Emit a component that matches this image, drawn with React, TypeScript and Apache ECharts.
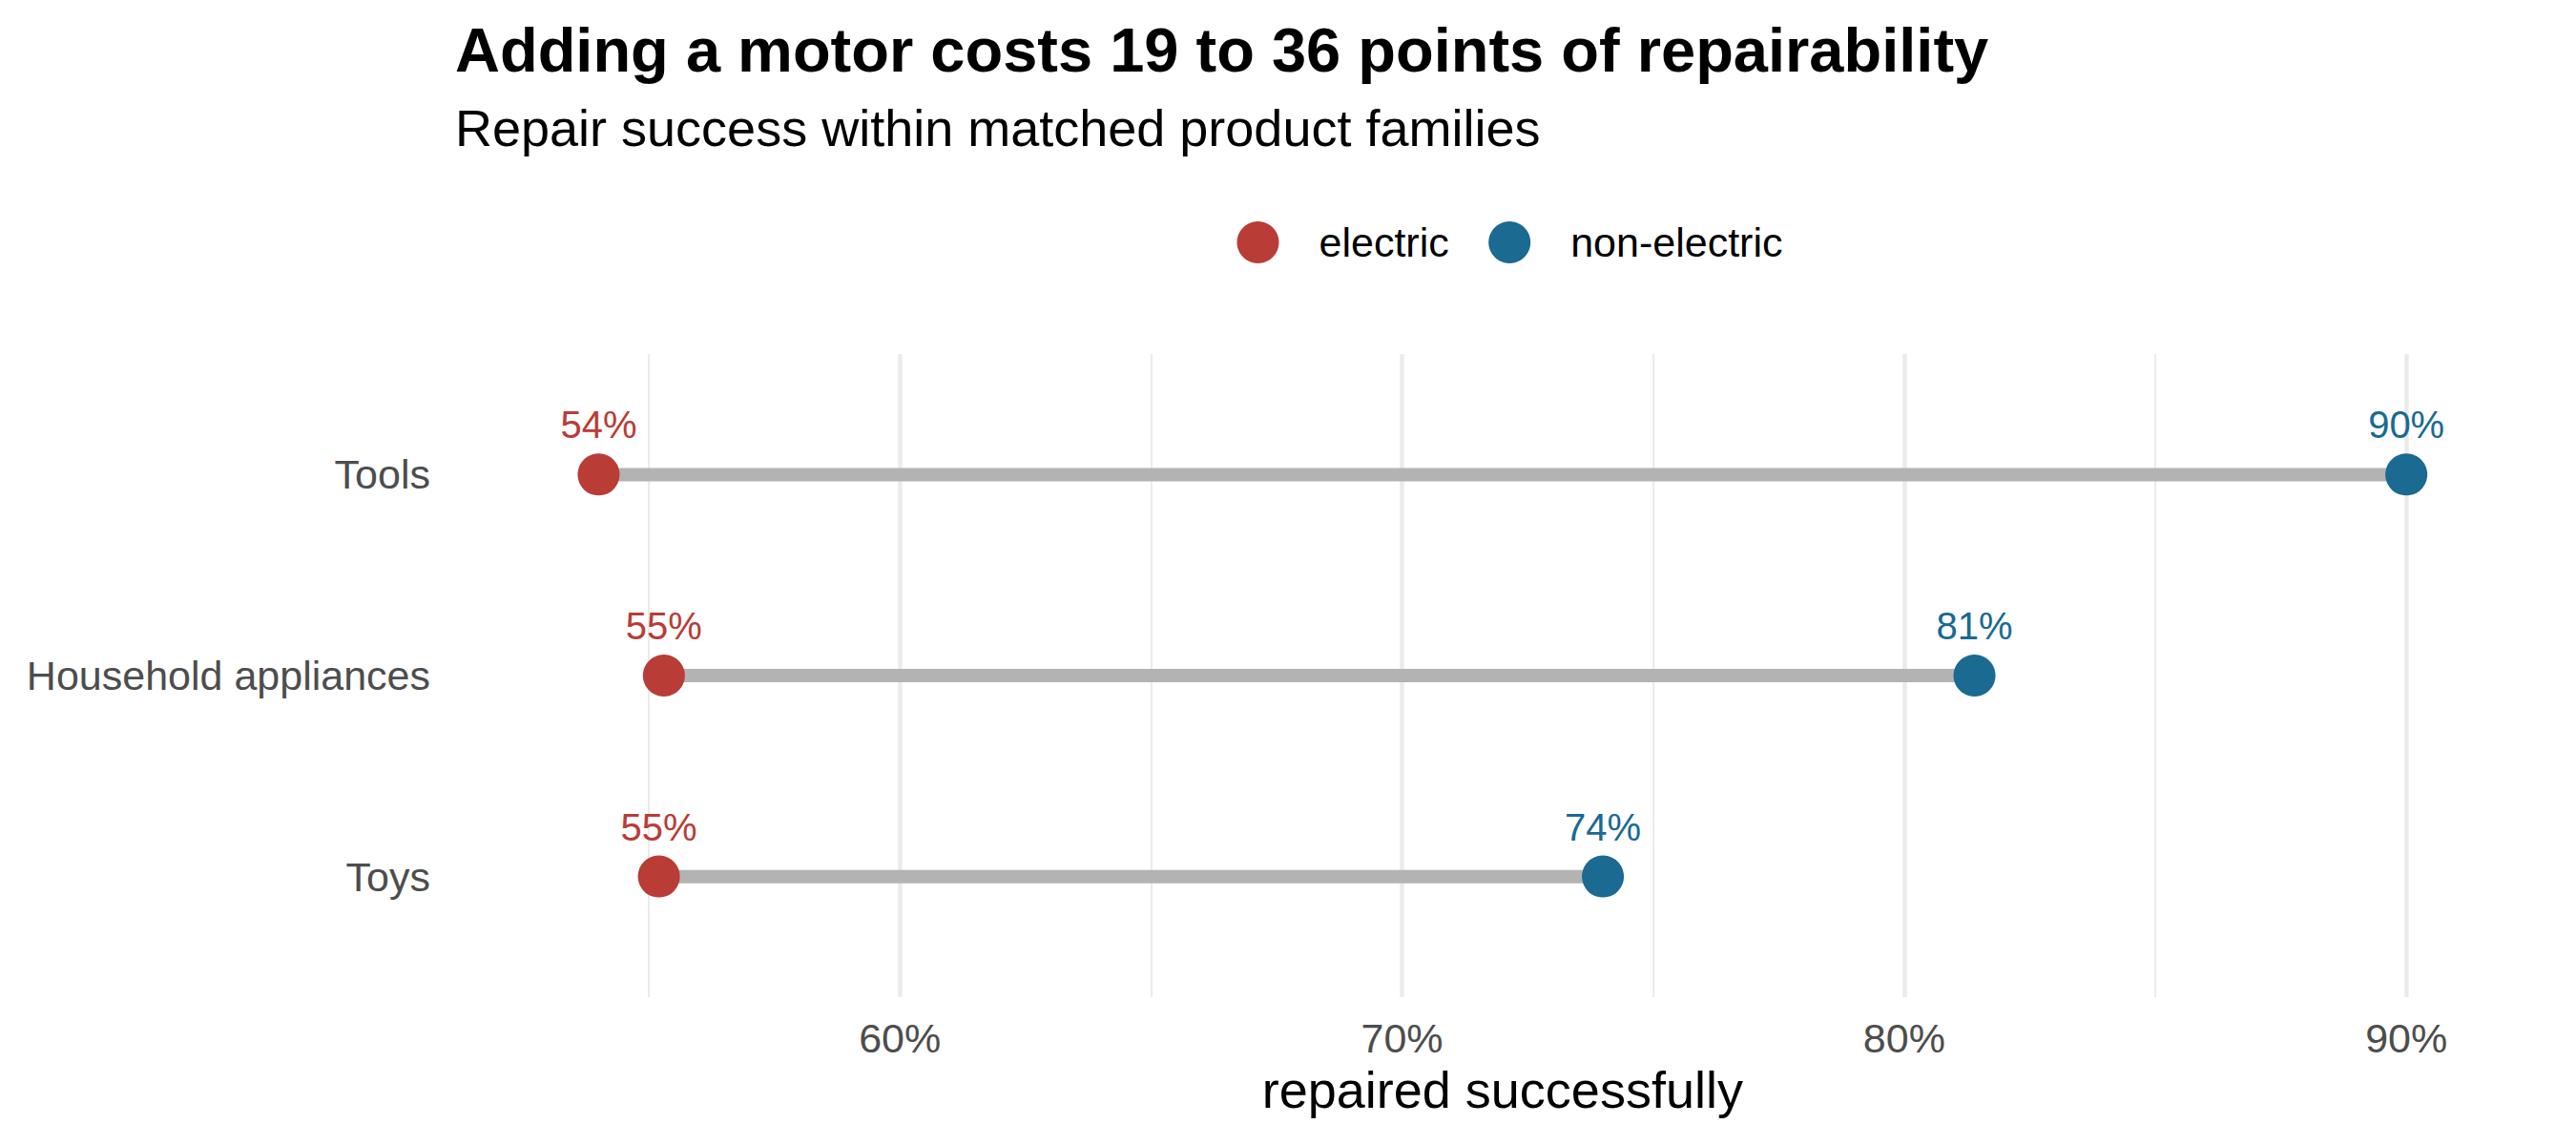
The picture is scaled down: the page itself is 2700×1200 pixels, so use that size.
import React, { useEffect, useRef } from 'react';
import * as echarts from 'echarts';

const categories = ['Tools', 'Household appliances', 'Toys'];
const electric = [54.0, 55.3, 55.2];
const nonElectric = [90.0, 81.4, 74.0];
const seriesNames = ['electric', 'non-electric'];
const titleText = 'Adding a motor costs 19 to 36 points of repairability';
const subtitleText = 'Repair success within matched product families';
const xAxisTitle = 'repaired successfully';

const RED = '#B93C37';
const BLUE = '#1A6A92';
const SEG = '#B3B3B3';
const GRID = '#EBEBEB';
const AXIS_TEXT = '#4D4D4D';
const FONT = '"Liberation Sans", Arial, Helvetica, sans-serif';

export default function App() {
  const ref = useRef<HTMLDivElement>(null);
  useEffect(() => {
    const chart = echarts.init(ref.current as HTMLDivElement, null, { renderer: 'svg' });
    // panel geometry
    const panelLeft = 532.7;
    const panelRight = 2616.9;
    const xMin = 52.2;
    const xMax = 91.8;
    const pxPer = (panelRight - panelLeft) / (xMax - xMin);
    const pos = (v: number) => panelLeft + (v - xMin) * pxPer;
    const panelTop = 371;
    const panelH = 674;
    const band = panelH / 3.2;
    const dataTop = panelTop + band * 0.6 - band / 2;
    const dataH = band * 3;

    const minorMin = 55;
    const majorMin = 60;
    const gMax = 90;

    const labelFmt = (p: any) => Math.round(p.value[0]) + '%';

    const option: any = {
      animation: false,
      backgroundColor: '#fff',
      textStyle: { fontFamily: FONT },
      title: [
        {
          text: titleText,
          left: 477,
          top: 20,
          padding: 0,
          textStyle: { fontSize: 65, fontWeight: 'bold', color: '#000', fontFamily: FONT },
        },
        {
          text: subtitleText,
          left: 477,
          top: 107,
          padding: 0,
          textStyle: { fontSize: 54, fontWeight: 'normal', color: '#000', fontFamily: FONT },
        },
      ],
      legend: {
        data: seriesNames,
        left: 1296.5,
        top: 232,
        padding: 0,
        icon: 'circle',
        itemWidth: 44,
        itemHeight: 44,
        itemGap: 41.5,
        textStyle: { fontSize: 43, color: '#000', fontFamily: FONT, padding: [0, 0, 0, 37] },
      },
      grid: [
        { left: pos(minorMin), width: pos(gMax) - pos(minorMin), top: panelTop, height: panelH },
        { left: pos(majorMin), width: pos(gMax) - pos(majorMin), top: panelTop, height: panelH },
        { left: panelLeft, width: panelRight - panelLeft, top: dataTop, height: dataH },
      ],
      xAxis: [
        {
          gridIndex: 0,
          type: 'value',
          min: minorMin,
          max: gMax,
          interval: 5,
          axisLine: { show: false },
          axisTick: { show: false },
          axisLabel: { show: false },
          splitLine: { show: true, lineStyle: { color: GRID, width: 2 } },
        },
        {
          gridIndex: 1,
          type: 'value',
          min: majorMin,
          max: gMax,
          interval: 10,
          axisLine: { show: false },
          axisTick: { show: false },
          axisLabel: {
            show: true,
            formatter: '{value}%',
            fontSize: 43,
            color: AXIS_TEXT,
            margin: 21,
            fontFamily: FONT,
          },
          splitLine: { show: true, lineStyle: { color: GRID, width: 4.5 } },
        },
        {
          gridIndex: 2,
          type: 'value',
          min: xMin,
          max: xMax,
          axisLine: { show: false },
          axisTick: { show: false },
          axisLabel: { show: false },
          splitLine: { show: false },
          name: xAxisTitle,
          nameLocation: 'middle',
          nameGap: 1115 - (dataTop + dataH),
          nameTextStyle: { fontSize: 54, color: '#000', fontFamily: FONT },
        },
      ],
      yAxis: [
        {
          gridIndex: 2,
          type: 'category',
          data: categories,
          inverse: true,
          axisLine: { show: false },
          axisTick: { show: false },
          splitLine: { show: false },
          axisLabel: { fontSize: 43, color: AXIS_TEXT, margin: panelLeft - 451, fontFamily: FONT },
        },
        { gridIndex: 0, type: 'value', show: false },
        { gridIndex: 1, type: 'value', show: false },
      ],
      series: [
        {
          type: 'custom',
          xAxisIndex: 2,
          yAxisIndex: 0,
          silent: true,
          data: categories.map((c, i) => [electric[i], nonElectric[i], i]),
          encode: { x: [0, 1], y: 2 },
          renderItem: (params: any, api: any) => {
            const a = api.coord([api.value(0), api.value(2)]);
            const b = api.coord([api.value(1), api.value(2)]);
            return {
              type: 'line',
              shape: { x1: a[0], y1: a[1], x2: b[0], y2: b[1] },
              style: { stroke: SEG, lineWidth: 14, lineCap: 'butt' },
            };
          },
        },
        {
          name: seriesNames[0],
          type: 'scatter',
          xAxisIndex: 2,
          yAxisIndex: 0,
          symbol: 'circle',
          symbolSize: 44,
          itemStyle: { color: RED, opacity: 1 },
          data: electric.map((v, i) => [v, i]),
          label: {
            show: true,
            position: 'top',
            distance: 10,
            formatter: labelFmt,
            fontSize: 40,
            color: RED,
            fontFamily: FONT,
          },
        },
        {
          name: seriesNames[1],
          type: 'scatter',
          xAxisIndex: 2,
          yAxisIndex: 0,
          symbol: 'circle',
          symbolSize: 44,
          itemStyle: { color: BLUE, opacity: 1 },
          data: nonElectric.map((v, i) => [v, i]),
          label: {
            show: true,
            position: 'top',
            distance: 10,
            formatter: labelFmt,
            fontSize: 40,
            color: BLUE,
            fontFamily: FONT,
          },
        },
      ],
    };
    chart.setOption(option);
    return () => {
      chart.dispose();
    };
  }, []);
  return (
    <div
      ref={ref}
      style={{ position: 'fixed', left: 0, top: 0, width: 2700, height: 1200, background: '#fff' }}
    />
  );
}
